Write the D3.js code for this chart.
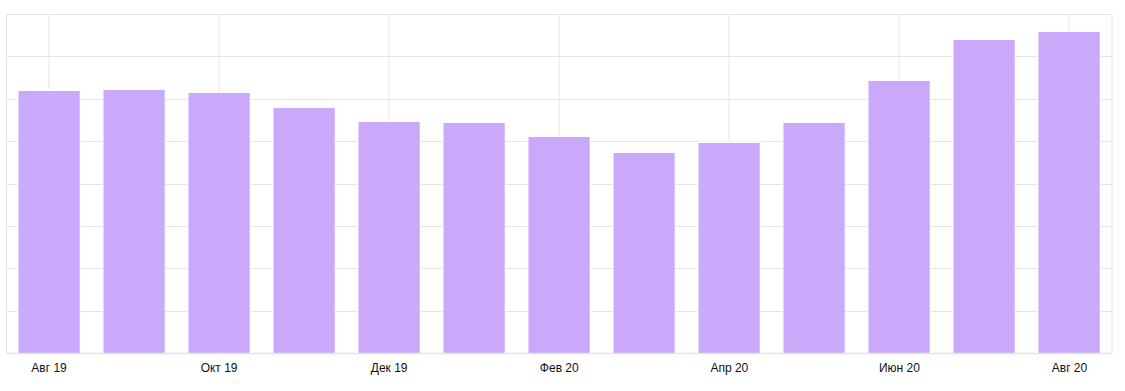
<!DOCTYPE html>
<html>
<head>
<meta charset="utf-8">
<script src="https://cdn.jsdelivr.net/npm/d3@7"></script>
<style>
  body { margin: 0; background: #fff; }
  svg { display: block; }
</style>
</head>
<body>
<svg id="chart"></svg>
<script>
// data
const months = ['Авг 19', 'Сен 19', 'Окт 19', 'Ноя 19', 'Дек 19', 'Янв 20', 'Фев 20',
                'Мар 20', 'Апр 20', 'Май 20', 'Июн 20', 'Июл 20', 'Авг 20']
const values = [618, 621, 614, 578, 545, 543, 510, 472, 496, 543, 642, 739, 758]
const labelMonths = months.filter((d, i) => i % 2 === 0)
const yTicks = [0, 100, 200, 300, 400, 500, 600, 700, 800]

const width = 1125
const height = 391
const margin = {top: 14, right: 13, bottom: 38, left: 6.5}
const innerW = width - margin.left - margin.right
const innerH = height - margin.top - margin.bottom

const svg = d3.select('#chart')
  .attr('width', width)
  .attr('height', height)

const g = svg.append('g')
  .attr('transform', 'translate(' + margin.left + ',' + margin.top + ')')

const x = d3.scaleBand()
  .domain(months)
  .range([0, innerW])
  .paddingInner(0.28)
  .paddingOuter(0.14)

const y = d3.scaleLinear()
  .domain([0, 800])
  .range([innerH, 0])

const gridColor = '#e4e4e4'

// horizontal grid
g.append('g')
  .selectAll('line')
  .data(yTicks)
  .enter()
  .append('line')
  .attr('x1', 0)
  .attr('x2', innerW)
  .attr('y1', d => Math.round(y(d)) + 0.5)
  .attr('y2', d => Math.round(y(d)) + 0.5)
  .style('stroke', gridColor)
  .style('stroke-width', 1)

// vertical grid (every other month) + borders
g.append('g')
  .selectAll('line')
  .data(labelMonths)
  .enter()
  .append('line')
  .attr('x1', d => Math.round(x(d) + x.bandwidth() / 2) - 0.5)
  .attr('x2', d => Math.round(x(d) + x.bandwidth() / 2) - 0.5)
  .attr('y1', 0)
  .attr('y2', innerH)
  .style('stroke', gridColor)

g.append('line')
  .attr('x1', 0).attr('x2', 0)
  .attr('y1', 0).attr('y2', innerH + 0.5)
  .style('stroke', gridColor)
g.append('line')
  .attr('x1', innerW).attr('x2', innerW)
  .attr('y1', 0).attr('y2', innerH + 0.5)
  .style('stroke', gridColor)

// bars: white halo so the grid stops just short of them
const bars = g.append('g')
  .selectAll('g')
  .data(values)
  .enter()
  .append('g')

bars.append('rect')
  .attr('x', (d, i) => Math.round(x(months[i])) - 1)
  .attr('y', d => Math.round(y(d)) - 1.5)
  .attr('width', x.bandwidth() + 2)
  .attr('height', d => innerH - Math.round(y(d)) + 1.5)
  .style('fill', '#fff')

bars.append('rect')
  .attr('x', (d, i) => Math.round(x(months[i])))
  .attr('y', d => Math.round(y(d)))
  .attr('width', x.bandwidth())
  .attr('height', d => innerH - Math.round(y(d)))
  .style('fill', '#caa9fb')

// bottom axis
const xAxis = d3.axisBottom(x)
  .tickValues(labelMonths)
  .tickSize(0)
  .tickPadding(10)

const ax = g.append('g')
  .attr('transform', 'translate(0,' + innerH + ')')
  .call(xAxis)

ax.select('.domain').remove()
ax.selectAll('text')
  .style('font-family', '"Liberation Sans", Arial, Helvetica, sans-serif')
  .style('font-size', '12px')
  .style('fill', '#111')

g.append('line')
  .attr('x1', 0).attr('x2', innerW)
  .attr('y1', innerH + 0.5).attr('y2', innerH + 0.5)
  .style('stroke', gridColor)
  .style('stroke-width', 1.5)
</script>
</body>
</html>
